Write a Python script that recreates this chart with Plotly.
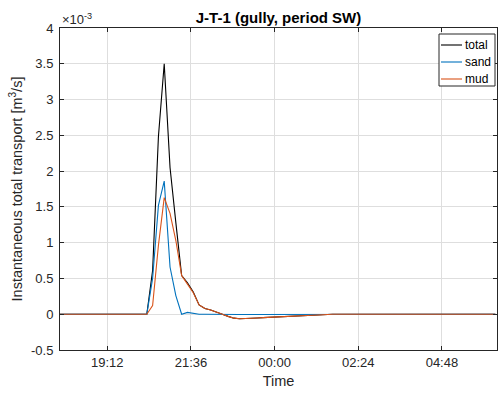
import pandas as pd
import plotly.graph_objects as go

# 10-minute samples from 17:50 to 06:20 (76 samples)
times = pd.date_range("2020-01-01 17:50", "2020-01-02 06:20", freq="10min")

# values in units of 1e-3 m^3/s
total = [0.0] * 15 + [
    0.0, 0.61, 2.48, 3.50, 2.05, 1.28, 0.54, 0.44, 0.31, 0.13,
    0.08, 0.06, 0.035, 0.0, -0.03, -0.055, -0.063, -0.062, -0.057, -0.052,
    -0.047, -0.043, -0.04, -0.035, -0.03, -0.024, -0.018, -0.013, -0.01, -0.007,
    -0.005, -0.003, -0.001,
] + [0.0] * 28

sand = [0.0] * 15 + [
    0.0, 0.50, 1.52, 1.86, 0.66, 0.26, 0.0, 0.025, 0.01, 0.0,
    0.0, -0.002, -0.003, -0.004, -0.004, -0.004, -0.004, -0.004, -0.004, -0.004,
    -0.004, -0.004, -0.004, -0.004, -0.003, -0.003, -0.002, -0.002, -0.001, -0.001,
    0.0, 0.0, 0.0,
] + [0.0] * 28

mud = [0.0] * 15 + [
    0.0, 0.12, 0.96, 1.63, 1.41, 1.03, 0.54, 0.42, 0.30, 0.13,
    0.08, 0.06, 0.035, 0.0, -0.03, -0.055, -0.063, -0.062, -0.057, -0.052,
    -0.047, -0.043, -0.04, -0.035, -0.03, -0.024, -0.018, -0.013, -0.01, -0.007,
    -0.005, -0.003, -0.001,
] + [0.0] * 28

series_names = ["total", "sand", "mud"]
series_colors = ["#000000", "#0072BD", "#D95319"]

tick_times = ["2020-01-01 19:12", "2020-01-01 21:36", "2020-01-02 00:00",
              "2020-01-02 02:24", "2020-01-02 04:48"]
tick_labels = ["19:12", "21:36", "00:00", "02:24", "04:48"]
y_ticks = [-0.5, 0, 0.5, 1, 1.5, 2, 2.5, 3, 3.5, 4]
y_labels = ["-0.5", "0", "0.5", "1", "1.5", "2", "2.5", "3", "3.5", "4"]

FONT = "Liberation Sans, Arial, Helvetica, sans-serif"
AX = "#262626"
GRID = "#dedede"

W, H = 498, 394
ML, MR, MT, MB = 60, 1, 28, 44
PW, PH = W - ML - MR, H - MT - MB


def px(x):
    return (x - ML) / PW


def py(y):
    return (H - MB - y) / PH


fig = go.Figure()
for name, vals, col in zip(series_names, [total, sand, mud], series_colors):
    fig.add_trace(go.Scatter(x=times, y=vals, mode="lines", name=name,
                             line=dict(color=col, width=1.1), showlegend=False))

fig.update_layout(
    width=W, height=H,
    margin=dict(l=ML, r=MR, t=MT, b=MB),
    paper_bgcolor="white", plot_bgcolor="white",
    font=dict(family=FONT, size=13, color=AX),
    title=dict(text="<b>J-T-1 (gully, period SW)</b>", x=(ML + PW / 2) / W,
               xanchor="center", y=1 - 18 / H, yanchor="middle",
               font=dict(size=15, color="#000000")),
    showlegend=False,
    xaxis=dict(
        range=["2020-01-01 17:50:36", "2020-01-02 06:22:48"],
        tickvals=tick_times, ticktext=tick_labels,
        ticks="inside", ticklen=4, tickcolor=AX,
        showline=True, linecolor=AX, linewidth=1, mirror="ticks",
        showgrid=True, gridcolor=GRID, gridwidth=1,
        zeroline=False,
        title=dict(text="Time", font=dict(size=14.5, color=AX), standoff=7),
        tickfont=dict(size=13, color=AX),
    ),
    yaxis=dict(
        range=[-0.5, 4],
        tickvals=y_ticks, ticktext=y_labels,
        ticks="inside", ticklen=4, tickcolor=AX,
        showline=True, linecolor=AX, linewidth=1, mirror="ticks",
        showgrid=True, gridcolor=GRID, gridwidth=1,
        zeroline=False,
        ticklabelstandoff=3,
        title=dict(text="Instantaneous total transport [m<sup>3</sup>/s]",
                   font=dict(size=14.5, color=AX), standoff=4),
        tickfont=dict(size=13, color=AX),
    ),
)

# exponent label
fig.add_annotation(
    text="×10<sup>-3</sup>", xref="paper", yref="paper",
    x=0.0, y=1.0, xanchor="left", yanchor="bottom", yshift=-1,
    showarrow=False, font=dict(size=13, color=AX, family=FONT),
)

# legend box (MATLAB style)
fig.add_shape(type="rect", xref="paper", yref="paper",
              x0=px(439), x1=px(495), y0=py(86), y1=py(34),
              line=dict(color=AX, width=1), fillcolor="white", layer="above")
entry_y = [45, 62, 79]
for name, col, yy in zip(series_names, series_colors, entry_y):
    fig.add_shape(type="line", xref="paper", yref="paper",
                  x0=px(441), x1=px(462), y0=py(yy), y1=py(yy),
                  line=dict(color=col, width=1.1), layer="above")
    fig.add_annotation(text=name, xref="paper", yref="paper",
                       x=px(462.5), y=py(yy), xanchor="left", yanchor="middle",
                       showarrow=False,
                       font=dict(size=12, color="#000000", family=FONT))

fig.write_html("out.html",
               config={"displayModeBar": False},
               post_script="document.body.style.margin='0px';"
                           "document.body.style.padding='0px';")
